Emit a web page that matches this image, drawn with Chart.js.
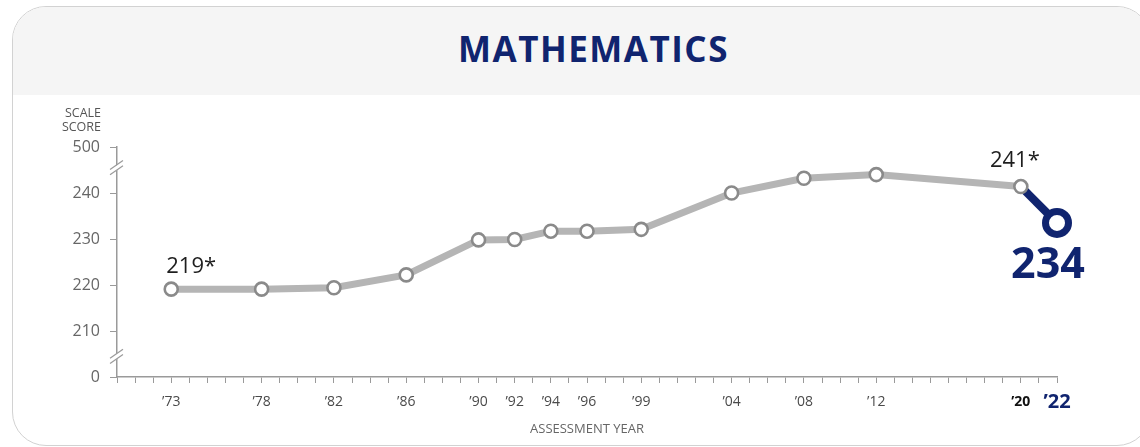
<!DOCTYPE html>
<html>
<head>
<meta charset="utf-8">
<script src="https://cdn.jsdelivr.net/npm/chart.js@4.4.0/dist/chart.umd.min.js"></script>
<style>
html,body{margin:0;padding:0;width:1140px;height:447px;overflow:hidden;background:#fff;font-family:'Open Sans',sans-serif;}
#card{position:absolute;left:12px;top:6px;width:1139px;height:440px;border:1.5px solid #d2d2d2;border-radius:34px;overflow:hidden;background:#fff;box-sizing:border-box;}
#head{position:absolute;left:0;top:0;right:0;height:87.5px;background:#f5f5f5;}
#title{position:absolute;left:0;width:1187px;top:33px;line-height:32px;text-align:center;font-family:'Open Sans',sans-serif;font-weight:700;font-size:35px;color:#10246f;letter-spacing:1.5px;}
#wrap{position:absolute;left:0;top:0;width:1140px;height:447px;}
</style>
</head>
<body>
<div id="card"><div id="head"></div></div>
<div id="title">MATHEMATICS</div>
<div id="wrap"><canvas id="c" width="1140" height="447"></canvas></div>
<script>
// ---- data ----
const years = [1973, 1978, 1982, 1986, 1990, 1992, 1994, 1996, 1999, 2004, 2008, 2012, 2020];
const scores = [219.1, 219.1, 219.4, 222.2, 229.8, 229.9, 231.7, 231.7, 232.1, 240.0, 243.2, 244.0, 241.4];
const recentYears = [2020, 2022];
const recentScores = [241.4, 233.5];
const tickYears = [1973, 1978, 1982, 1986, 1990, 1992, 1994, 1996, 1999, 2004, 2008, 2012, 2020, 2022];
const tickLabels = ['\u201973', '\u201978', '\u201982', '\u201986', '\u201990', '\u201992', '\u201994', '\u201996', '\u201999', '\u201904', '\u201908', '\u201912', '\u201920', '\u201922'];
const yTickValues = [200, 210, 220, 230, 240, 250];
const yTickLabels = ['0', '210', '220', '230', '240', '500'];
const yBreaks = [245.5, 204.5];
const calloutTexts = ['219*', '241*', '234'];
const xMin = 1970, xMax = 2022;

const NAVY = '#10246f';
const AXIS = '#9a9a9a';

const tickYearsAll = [];
for (let y = xMin; y <= xMax; y++) tickYearsAll.push(y);

const breakPlugin = {
  id: 'breaks',
  afterDraw(chart) {
    const ctx = chart.ctx;
    const ys = chart.scales.y;
    const x = ys.right;
    yBreaks.forEach(v => {
      const y = ys.getPixelForValue(v);
      ctx.save();
      ctx.fillStyle = '#fff';
      ctx.beginPath();
      ctx.moveTo(x - 7, y + 7.5);
      ctx.lineTo(x + 7, y - 2);
      ctx.lineTo(x + 7, y - 7.5);
      ctx.lineTo(x - 7, y + 2);
      ctx.closePath();
      ctx.fill();
      ctx.strokeStyle = AXIS;
      ctx.lineWidth = 1.2;
      [-2.6, 2.6].forEach(off => {
        ctx.beginPath();
        ctx.moveTo(x - 7, y + 4.5 + off);
        ctx.lineTo(x + 6, y - 4.5 + off);
        ctx.stroke();
      });
      ctx.restore();
    });
    // axis caption
    ctx.save();
    ctx.fillStyle = '#555';
    ctx.font = "12.5px 'Open Sans'";
    ctx.textAlign = 'right';
    ctx.textBaseline = 'middle';
    ctx.fillText('SCALE', ys.right - 16, ys.top - 34);
    ctx.fillText('SCORE', ys.right - 16, ys.top - 19.5);
    ctx.restore();
  }
};

const calloutPlugin = {
  id: 'callouts',
  afterDatasetsDraw(chart) {
    const ctx = chart.ctx;
    const g = chart.getDatasetMeta(0).data;
    const n = chart.getDatasetMeta(1).data;
    ctx.save();
    ctx.textBaseline = 'alphabetic';
    ctx.fillStyle = '#1e1e1e';
    ctx.font = "500 22px 'Open Sans'";
    ctx.textAlign = 'left';
    ctx.fillText(calloutTexts[0], g[0].x - 5, g[0].y - 16);
    ctx.textAlign = 'center';
    ctx.fillText(calloutTexts[1], g[g.length - 1].x - 6, g[g.length - 1].y - 20);
    ctx.fillStyle = NAVY;
    ctx.font = "700 43px 'Open Sans'";
    ctx.fillText(calloutTexts[2], n[1].x - 9, n[1].y + 55);
    ctx.restore();
  }
};

function build() {
  Chart.defaults.font.family = "'Open Sans', sans-serif";
  new Chart(document.getElementById('c'), {
    type: 'line',
    data: {
      datasets: [
        {
          data: years.map((x, i) => ({ x, y: scores[i] })),
          borderColor: '#b5b5b5',
          borderWidth: 7,
          pointRadius: 6.5,
          pointBackgroundColor: '#fff',
          pointBorderColor: '#8a8a8a',
          pointBorderWidth: 2.6,
          tension: 0,
          clip: false
        },
        {
          data: recentYears.map((x, i) => ({ x, y: recentScores[i] })),
          borderColor: NAVY,
          borderWidth: 8,
          pointRadius: [0, 11.5],
          pointBackgroundColor: '#fff',
          pointBorderColor: NAVY,
          pointBorderWidth: 7,
          tension: 0,
          clip: false
        }
      ]
    },
    options: {
      responsive: false,
      animation: false,
      events: [],
      layout: { padding: { left: 0, right: 83, top: 147, bottom: 10 } },
      plugins: { legend: { display: false }, tooltip: { enabled: false } },
      scales: {
        x: {
          type: 'linear',
          min: xMin,
          max: xMax,
          afterBuildTicks: s => { s.ticks = tickYearsAll.map(v => ({ value: v })); },
          afterFit: s => { s.height = 60; },
          ticks: {
            autoSkip: false,
            maxRotation: 0,
            padding: 11,
            callback: v => { const i = tickYears.indexOf(v); return i < 0 ? '' : tickLabels[i]; },
            color: c => c.tick && c.tick.value === 2022 ? NAVY : (c.tick && c.tick.value === 2020 ? '#111' : '#4a4a4a'),
            font: c => {
              const v = c.tick ? c.tick.value : 0;
              if (v === 2022) return { size: 20, weight: '700', lineHeight: 0.84 };
              if (v === 2020) return { size: 14, weight: '700' };
              return { size: 14, weight: '400' };
            }
          },
          grid: { display: true, drawOnChartArea: false, drawTicks: true, tickLength: 6, color: AXIS, lineWidth: 1 },
          border: { display: true, color: AXIS, width: 1.5 },
          title: { display: true, text: 'ASSESSMENT YEAR', color: '#666', font: { size: 13 }, padding: { top: 4, bottom: 0 } }
        },
        y: {
          type: 'linear',
          min: 200,
          max: 250,
          afterBuildTicks: s => { s.ticks = yTickValues.map(v => ({ value: v })); },
          afterFit: s => { s.width = 117; },
          ticks: {
            padding: 10,
            color: '#666',
            font: { size: 16 },
            callback: (v) => { const i = yTickValues.indexOf(v); return i < 0 ? '' : yTickLabels[i]; }
          },
          grid: { display: true, drawOnChartArea: false, drawTicks: true, tickLength: 7, color: AXIS, lineWidth: 1 },
          border: { display: true, color: AXIS, width: 1.5 }
        }
      }
    },
    plugins: [breakPlugin, calloutPlugin]
  });
}

Promise.all([
  document.fonts.load("400 16px 'Open Sans'"),
  document.fonts.load("700 16px 'Open Sans'")
]).then(build, build);
</script>
</body>
</html>
